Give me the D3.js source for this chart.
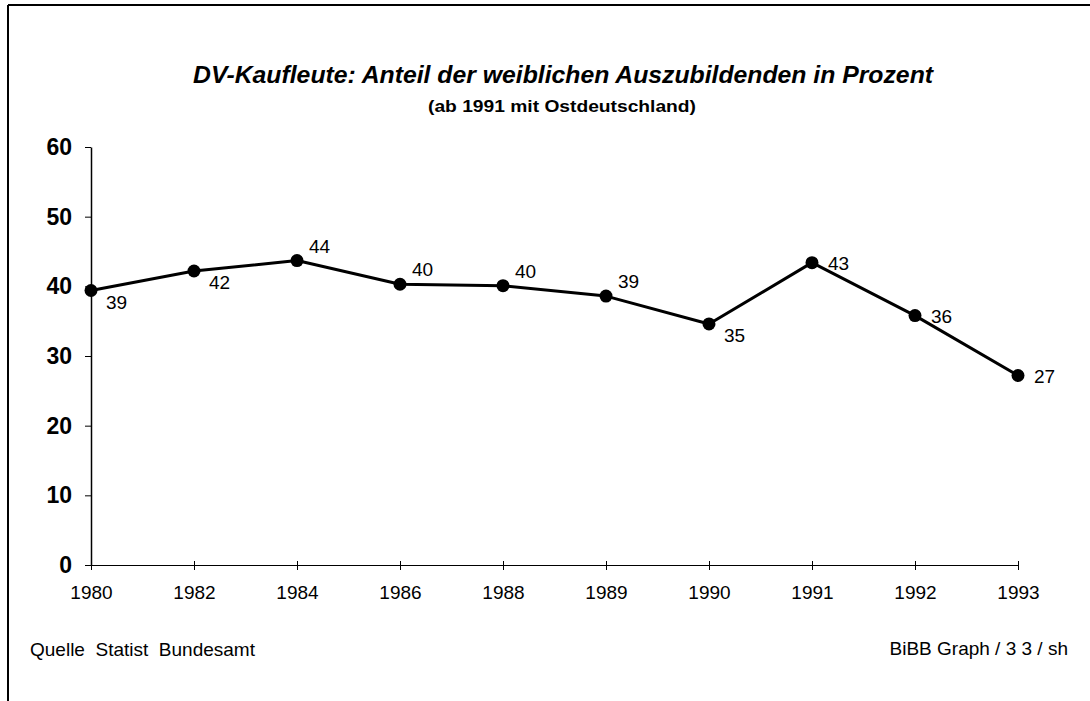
<!DOCTYPE html>
<html>
<head>
<meta charset="utf-8">
<script src="https://cdn.jsdelivr.net/npm/d3@7"></script>
<style>
  body { margin: 0; background: #fff; }
  text { font-family: "Liberation Sans", Arial, sans-serif; fill: #000; }
</style>
</head>
<body>
<div id="chart"></div>
<script>
// data
var years = ["1980", "1982", "1984", "1986", "1988", "1989", "1990", "1991", "1992", "1993"];
var shares = [39.4, 42.2, 43.7, 40.3, 40.1, 38.6, 34.6, 43.4, 35.8, 27.2];
var yTicks = [0, 10, 20, 30, 40, 50, 60];
// where each value label sits relative to its point
var labelSide = ["below", "below", "above", "above", "above", "above", "below", "right", "right", "right"];

var svgWidth = 1090;
var svgHeight = 701;

var margin = { top: 147, right: 72, bottom: 136, left: 91 };
var width = svgWidth - margin.left - margin.right;
var height = svgHeight - margin.top - margin.bottom;

var svg = d3.select("#chart")
  .append("svg")
  .attr("width", svgWidth)
  .attr("height", svgHeight);

// frame lines of the scan (top and left only)
svg.append("line")
  .attr("x1", 8).attr("x2", svgWidth).attr("y1", 5).attr("y2", 5)
  .attr("stroke", "#000").attr("stroke-width", 2);
svg.append("line")
  .attr("x1", 8).attr("x2", 8).attr("y1", 5).attr("y2", svgHeight)
  .attr("stroke", "#000").attr("stroke-width", 2);

// titles
svg.append("text")
  .attr("x", 563)
  .attr("y", 83)
  .attr("text-anchor", "middle")
  .attr("textLength", 740)
  .attr("lengthAdjust", "spacingAndGlyphs")
  .style("font-size", "24px")
  .style("font-weight", "bold")
  .style("font-style", "italic")
  .text("DV-Kaufleute: Anteil der weiblichen Auszubildenden in Prozent");

svg.append("text")
  .attr("x", 562)
  .attr("y", 112)
  .attr("text-anchor", "middle")
  .attr("textLength", 268)
  .attr("lengthAdjust", "spacingAndGlyphs")
  .style("font-size", "16px")
  .style("font-weight", "bold")
  .text("(ab 1991 mit Ostdeutschland)");

var chartGroup = svg.append("g")
  .attr("transform", `translate(${margin.left}, ${margin.top})`);

var xScale = d3.scalePoint()
  .domain(years)
  .range([0, width]);

var yScale = d3.scaleLinear()
  .domain([0, 60])
  .range([height, 0]);

// x axis
var xAxis = chartGroup.append("g")
  .attr("transform", `translate(0, ${height})`)
  .call(d3.axisBottom(xScale).tickSizeInner(5).tickSizeOuter(0).tickPadding(16));
xAxis.select(".domain").attr("stroke", "#000").attr("stroke-width", 1);
xAxis.selectAll(".tick line").attr("stroke", "#000").attr("y1", -4);
xAxis.selectAll(".tick text")
  .style("font-size", "19px")
  .attr("font-family", null);

// y axis
var yAxis = chartGroup.append("g")
  .call(d3.axisLeft(yScale).tickValues(yTicks).tickSizeInner(6).tickSizeOuter(0).tickPadding(13));
yAxis.select(".domain").attr("stroke", "#000").attr("stroke-width", 1.5);
yAxis.selectAll(".tick line").attr("stroke", "#000");
yAxis.selectAll(".tick text")
  .style("font-size", "23px")
  .style("font-weight", "bold")
  .attr("font-family", null);

// line
var line = d3.line()
  .x(function(d, i) { return xScale(years[i]); })
  .y(function(d) { return yScale(d); });

chartGroup.append("path")
  .datum(shares)
  .attr("d", line)
  .attr("fill", "none")
  .attr("stroke", "#000")
  .attr("stroke-width", 3)
  .attr("stroke-linejoin", "round");

chartGroup.selectAll("circle")
  .data(shares)
  .enter()
  .append("circle")
  .attr("cx", function(d, i) { return xScale(years[i]); })
  .attr("cy", function(d) { return yScale(d); })
  .attr("r", 6.5)
  .attr("fill", "#000");

// value labels
var offsets = {
  below: [15, 18],
  above: [12, -8],
  right: [16, 7]
};

chartGroup.selectAll(".val")
  .data(shares)
  .enter()
  .append("text")
  .attr("class", "val")
  .attr("x", function(d, i) { return xScale(years[i]) + offsets[labelSide[i]][0]; })
  .attr("y", function(d, i) { return yScale(d) + offsets[labelSide[i]][1]; })
  .style("font-size", "19px")
  .text(function(d) { return d3.format(".0f")(d); });

// footer
svg.append("text")
  .attr("x", 30)
  .attr("y", 656)
  .style("font-size", "19px")
  .style("white-space", "pre")
  .text("Quelle  Statist  Bundesamt");

svg.append("text")
  .attr("x", 1068)
  .attr("y", 655)
  .attr("text-anchor", "end")
  .style("font-size", "19px")
  .text("BiBB Graph / 3 3 / sh");
</script>
</body>
</html>
